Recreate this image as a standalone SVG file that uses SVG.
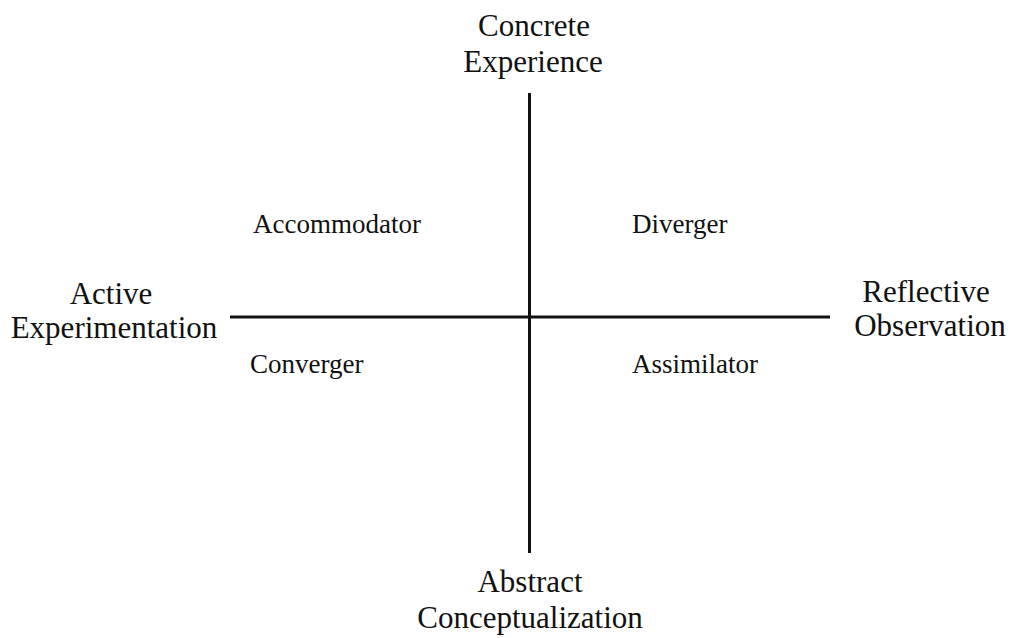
<svg xmlns="http://www.w3.org/2000/svg" width="1013" height="638" viewBox="0 0 1013 638">
<style>
.ax{font-family:"Liberation Serif","Times New Roman",serif;font-size:31px;fill:#111;text-anchor:middle}
.q{font-family:"Liberation Serif","Times New Roman",serif;font-size:27px;fill:#111}
.ln{stroke:#111;stroke-width:3;fill:none}
</style>
<rect width="1013" height="638" fill="#fff"/>
<g id="connectors">
<line class="ln" x1="529.5" y1="93" x2="529.5" y2="553"/>
<line class="ln" x1="230" y1="317" x2="830" y2="317"/>
</g>
<g id="concrete-experience"><text class="ax" x="534" y="36">Concrete</text><text class="ax" x="533" y="72">Experience</text></g>
<g id="active-experimentation"><text class="ax" x="111" y="304">Active</text><text class="ax" x="114" y="338">Experimentation</text></g>
<g id="reflective-observation"><text class="ax" x="926" y="302">Reflective</text><text class="ax" x="930" y="336">Observation</text></g>
<g id="abstract-conceptualization"><text class="ax" x="530" y="592">Abstract</text><text class="ax" x="530" y="628">Conceptualization</text></g>
<g id="accommodator"><text class="q" x="253" y="233">Accommodator</text></g>
<g id="diverger"><text class="q" x="632" y="233">Diverger</text></g>
<g id="converger"><text class="q" x="250" y="373">Converger</text></g>
<g id="assimilator"><text class="q" x="632" y="373">Assimilator</text></g>
</svg>
